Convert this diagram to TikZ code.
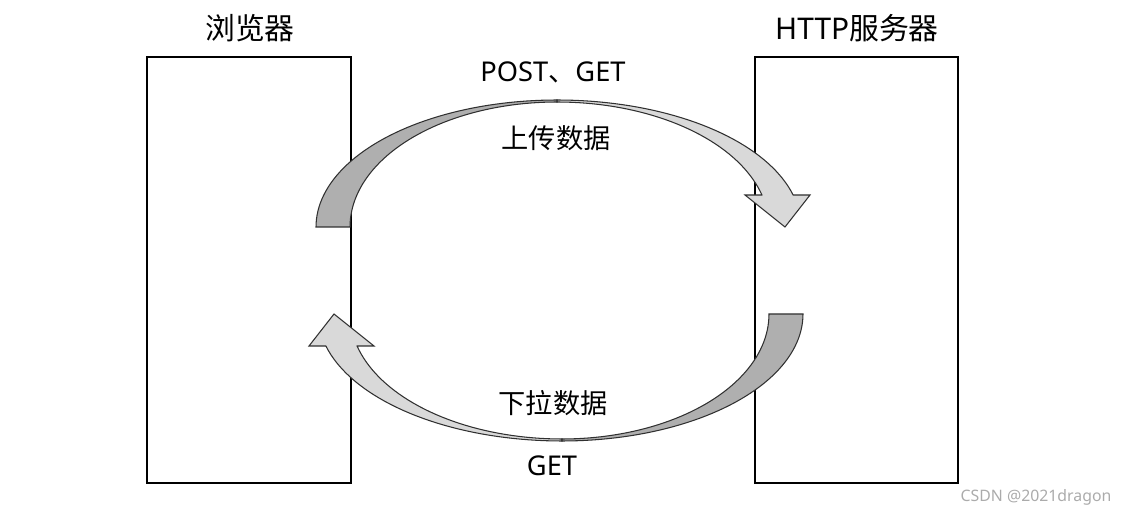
\documentclass[tikz,border=0pt]{standalone}
\usepackage{fontspec}
\setmainfont{Noto Sans CJK SC}
\newfontfamily\wmfont{Noto Sans}
\newfontfamily\latinfont{Noto Sans}
\definecolor{ribbondark}{HTML}{AFAFAF}
\definecolor{ribbonlight}{HTML}{D9D9D9}
\definecolor{ribbonedge}{HTML}{303030}
\definecolor{wmgray}{HTML}{ABABAB}
\newcommand\ribbonarrow{%
  \path[lightpart] (557,100)
    -- plot[domain=90:14.6,samples=40,variable=\t]({557+244*cos(\t)},{227-127*sin(\t)})
    -- (810,195) -- (785,227) -- (745,195) -- (762,195)
    -- plot[domain=14.6:90,samples=40,variable=\t]({557+212*cos(\t)},{227-125*sin(\t)})
    -- cycle;
  \path[darkpart] (316,227)
    -- plot[domain=180:90,samples=50,variable=\t]({557+241*cos(\t)},{227-127*sin(\t)})
    -- plot[domain=90:180,samples=50,variable=\t]({557+207*cos(\t)},{227-125*sin(\t)})
    -- cycle;
}
\begin{document}
\begin{tikzpicture}[x=0.02cm,y=-0.02cm,
  box/.style={draw=black,line width=1.1pt,inner sep=0pt},
  titletext/.style={font=\fontsize{17}{20}\selectfont,inner sep=0pt},
  labtext/.style={font=\fontsize{15.5}{18}\selectfont,inner sep=0pt},
  wmtext/.style={font=\wmfont\fontsize{9}{11}\selectfont,text=wmgray,inner sep=0pt},
  lightpart/.style={fill=ribbonlight,draw=ribbonedge,line width=0.6pt,line join=miter},
  darkpart/.style={fill=ribbondark,draw=ribbonedge,line width=0.6pt,line join=miter}]
\useasboundingbox (0,0) rectangle (1125,516);
\node[box,minimum width=4.08cm,minimum height=8.52cm] (browser) at (249,270) {};
\node[box,minimum width=4.06cm,minimum height=8.52cm] (server) at (856.5,270) {};
\ribbonarrow
\begin{scope}[rotate around={180:(559.5,270.5)}]
\ribbonarrow
\end{scope}
\node[titletext] (tbrowser) at (250,28) {浏览器};
\node[titletext] (tserver) at (857,28) {{\latinfont HTTP}服务器};
\node[labtext] (lpost) at (553,72) {{\latinfont POST}、{\latinfont GET}};
\node[labtext] (lup) at (556,138) {上传数据};
\node[labtext] (ldown) at (553,403) {下拉数据};
\node[labtext] (lget) at (552,466) {{\latinfont GET}};
\node[wmtext] (wm) at (1036,497) {CSDN @2021dragon};
\end{tikzpicture}
\end{document}
